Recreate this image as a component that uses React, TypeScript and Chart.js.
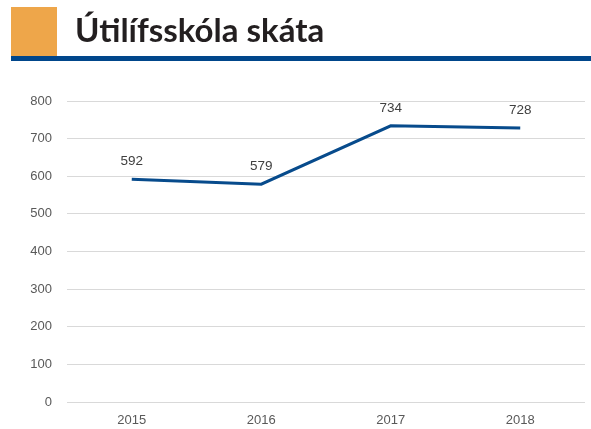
import React, { useEffect, useRef } from "react";
import { Chart, registerables } from "chart.js";

Chart.register(...registerables);

const title = "Útilífsskóla skáta";
const categories = ["2015", "2016", "2017", "2018"];
const participants = [592, 579, 734, 728];
const yMin = 0;
const yMax = 800;
const yStep = 100;

const headerPlugin = {
  id: "header",
  beforeDraw(chart: any) {
    const ctx = chart.ctx;
    ctx.save();
    ctx.fillStyle = "#ffffff";
    ctx.fillRect(0, 0, chart.width, chart.height);
    ctx.fillStyle = "#eea64a";
    ctx.fillRect(11, 7, 46, 49);
    ctx.fillStyle = "#00468b";
    ctx.fillRect(11, 56, chart.width - 11, 5);
    ctx.fillStyle = "#231f20";
    ctx.font = "bold 33px Lato";
    ctx.textBaseline = "alphabetic";
    ctx.textAlign = "left";
    ctx.fillText(title, 75, 42);
    ctx.restore();
  },
};

const valueLabelPlugin = {
  id: "valueLabels",
  afterDatasetsDraw(chart: any) {
    const ctx = chart.ctx;
    const meta = chart.getDatasetMeta(0);
    const data = chart.data.datasets[0].data;
    ctx.save();
    ctx.fillStyle = "#404040";
    ctx.font = "13.5px 'Liberation Sans'";
    ctx.textAlign = "center";
    ctx.textBaseline = "middle";
    meta.data.forEach((pt: any, i: number) => {
      ctx.fillText(String(data[i]), pt.x, pt.y - 18);
    });
    ctx.restore();
  },
};

export default function App() {
  const ref = useRef<HTMLCanvasElement>(null);
  useEffect(() => {
    if (!ref.current) return;
    const chart = new Chart(ref.current, {
      type: "line",
      data: {
        labels: categories,
        datasets: [
          {
            data: participants,
            borderColor: "#074b8c",
            borderWidth: 3,
            pointRadius: 0,
            tension: 0,
            fill: false,
          },
        ],
      },
      options: {
        animation: false,
        responsive: false,
        maintainAspectRatio: false,
        layout: { padding: { top: 101, right: 6, bottom: 2, left: 0 } },
        plugins: {
          legend: { display: false },
          tooltip: { enabled: false },
        },
        scales: {
          x: {
            offset: true,
            grid: { display: false, drawTicks: false },
            border: { display: false },
            afterFit(scale: any) {
              scale.height = 25;
            },
            ticks: {
              color: "#595959",
              font: { family: "'Liberation Sans'", size: 13 },
              padding: 11,
              maxRotation: 0,
            },
          },
          y: {
            min: yMin,
            max: yMax,
            afterFit(scale: any) {
              scale.width = 67;
            },
            grid: { color: "#d9d9d9", drawTicks: false, lineWidth: 1 },
            border: { display: false },
            ticks: {
              stepSize: yStep,
              color: "#595959",
              font: { family: "'Liberation Sans'", size: 13 },
              padding: 15,
            },
          },
        },
      },
      plugins: [headerPlugin, valueLabelPlugin],
    });
    return () => chart.destroy();
  }, []);
  return (
    <div style={{ position: "fixed", left: 0, top: 0, width: 591, height: 429, background: "#fff" }}>
      <canvas ref={ref} width={591} height={429} style={{ display: "block", width: 591, height: 429 }} />
    </div>
  );
}
